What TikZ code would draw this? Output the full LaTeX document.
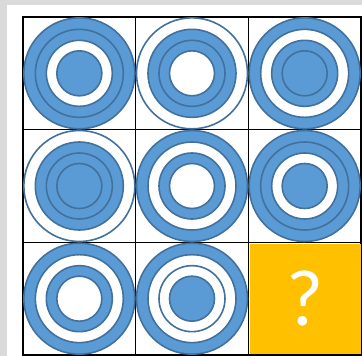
\documentclass[tikz,border=0pt]{standalone}
\usepackage{fontspec}
\newfontfamily\qfont{Carlito}
\definecolor{ringblue}{HTML}{5B9BD5}
\definecolor{ringline}{HTML}{41719C}
\definecolor{gold}{HTML}{FFC000}
\definecolor{edgegrey}{HTML}{DADADA}
\tikzset{
  ring/.style={draw=ringline, line width=1.6pt},
  gridline/.style={draw=black, line width=1.4pt},
}
% \target{x}{y}{c1}{c2}{c3}{c4}
\newcommand{\target}[6]{%
  \fill[#3, ring] (#1,#2) circle (55.5);
  \fill[#4, ring] (#1,#2) circle (44);
  \fill[#5, ring] (#1,#2) circle (33);
  \fill[#6, ring] (#1,#2) circle (22.5);
}
\begin{document}
\begin{tikzpicture}[x=1pt,y=-1pt]
  \useasboundingbox (0,0) rectangle (362,356);
  \fill[white] (0,0) rectangle (362,356);
  \fill[edgegrey] (0,0) rectangle (7,356);
  \fill[edgegrey] (0,0) rectangle (362,5);
  % grid
  \draw[gridline] (23,17) rectangle (361,355);
  \draw[gridline] (135.67,17) -- (135.67,355);
  \draw[gridline] (248.33,17) -- (248.33,355);
  \draw[gridline] (23,129.67) -- (361,129.67);
  \draw[gridline] (23,242.33) -- (361,242.33);
  % row 1
  \target{79.33}{73.33}{ringblue}{ringblue}{white}{ringblue}
  \target{192}{73.33}{white}{ringblue}{ringblue}{white}
  \target{304.67}{73.33}{ringblue}{white}{ringblue}{ringblue}
  % row 2
  \target{79.33}{186}{white}{ringblue}{ringblue}{ringblue}
  \target{192}{186}{ringblue}{white}{ringblue}{white}
  \target{304.67}{186}{ringblue}{ringblue}{white}{ringblue}
  % row 3
  \target{79.33}{298.67}{ringblue}{white}{ringblue}{white}
  \target{192}{298.67}{ringblue}{white}{white}{ringblue}
  % question box
  \node[fill=gold, minimum width=111pt, minimum height=110pt, inner sep=0pt,
        text=white, font=\qfont\fontsize{80}{80}\selectfont] (qbox) at (305.5,298.5) {?};
\end{tikzpicture}
\end{document}
